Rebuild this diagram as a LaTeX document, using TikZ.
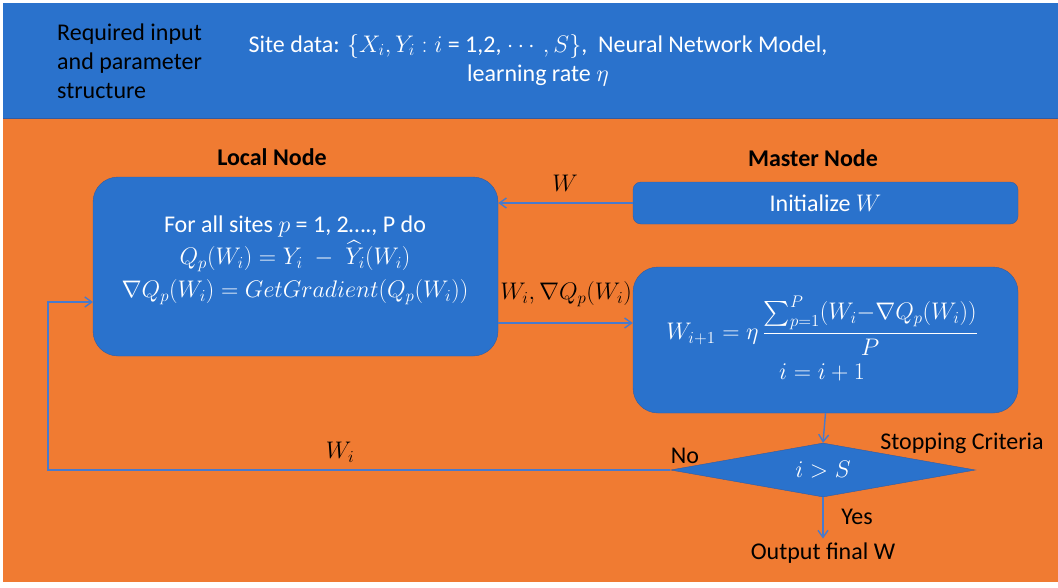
\RequirePackage{fix-cm}
\documentclass[tikz,border=0pt]{standalone}
\usepackage{amsmath}
\usepackage{fontspec}
\setmainfont{Carlito}
\usetikzlibrary{arrows.meta,shapes.geometric}

\definecolor{bandblue}{RGB}{42,114,204}
\definecolor{bgorange}{RGB}{240,123,50}
\definecolor{linkblue}{RGB}{72,122,204}
\definecolor{edgeblue}{RGB}{52,92,160}

\begin{document}
\begin{tikzpicture}[x=1pt,y=-1pt,
  every node/.style={font=\fontsize{24}{29}\selectfont},
  box/.style={draw=edgeblue,fill=bandblue,inner sep=0pt},
  inbox/.style={text=white,align=center,inner sep=0pt},
  link/.style={draw=linkblue,line width=1.4pt,-{Straight Barb[length=7pt,width=10pt]}},
  tag/.style={text=black,inner sep=1pt}]

  \useasboundingbox (0,0) rectangle (1058,587);
  \fill[white] (0,0) rectangle (1058,587);
  \fill[bgorange] (3,118) rectangle (1058,582);
  \fill[bandblue] (3,3) rectangle (1058,118);
  \draw[edgeblue,line width=0.8pt] (3,118) -- (1058,118);

  % input band
  \node[tag,align=left,anchor=west] (req) at (56,61) {Required input\\and parameter\\structure};
  \node[tag,text=white,align=center] (data) at (538,60)
    {Site data: $\{X_i, Y_i : i$ = 1,2, $\cdots, S\}$,\ \ Neural Network Model,\\learning rate $\eta$};

  % headings
  \node[tag,font=\fontsize{24}{26}\selectfont\bfseries] (localhead) at (272,157) {Local Node};
  \node[tag,font=\fontsize{24}{26}\selectfont\bfseries] (masterhead) at (813,158) {Master Node};

  % boxes
  \node[box,rounded corners=25pt,minimum width=405pt,minimum height=179pt] (local) at (295.5,266.5) {};
  \node[inbox] (localtext) at (295,260)
    {For all sites $p$ = 1, 2…., P do\\[3pt]
     $Q_p(W_i)=Y_i\;-\;\widehat{Y}_i(W_i)$\\[4pt]
     $\nabla Q_p(W_i)=GetGradient(Q_p(W_i))$};
  \node[box,rounded corners=8pt,minimum width=385pt,minimum height=42pt] (init) at (825.5,203) {};
  \node[inbox] (inittext) at (init) {Initialize $W$};
  \node[box,rounded corners=25pt,minimum width=385pt,minimum height=146pt] (update) at (825.5,340) {};
  \node[inbox] (updtext) at (822,326) {$W_{i+1}=\eta\,\dfrac{\sum_{p=1}^{P}(W_i{-}\nabla Q_p(W_i))}{P}$};
  \node[inbox] (incr) at (822,372) {$i=i+1$};
  \node[box,diamond,aspect=5.6,minimum width=305pt,minimum height=54pt] (crit) at (823,470) {};
  \node[inbox] (crittext) at (crit) {$i>S$};
  \node[tag] (output) at (823,553) {Output final W};

  \coordinate (gradout) at (498,323);
  \coordinate (back) at (48,470);
  \coordinate (loopin) at (93,302);

  % connectors
  \draw[link] (init.west) -- (init.west -| local.east);
  \draw[link] (gradout) -- (gradout -| update.west);
  \draw[link] (update.south) -- (crit.north);
  \draw[link] (crit.west) -- (back) |- (loopin);
  \draw[link,shorten >=3pt] (crit.south) -- (output.north);

  % labels
  \node[tag] (wlabel) at (565,183) {$W$};
  \node[tag] (gradlabel) at (566,294) {$W_i, \nabla Q_p(W_i)$};
  \node[tag] (backlabel) at (340,452) {$W_i$};
  \node[tag] (nolabel) at (685,456) {No};
  \node[tag] (yeslabel) at (857,517) {Yes};
  \node[tag] (critlabel) at (962,443) {Stopping Criteria};

\end{tikzpicture}
\end{document}
